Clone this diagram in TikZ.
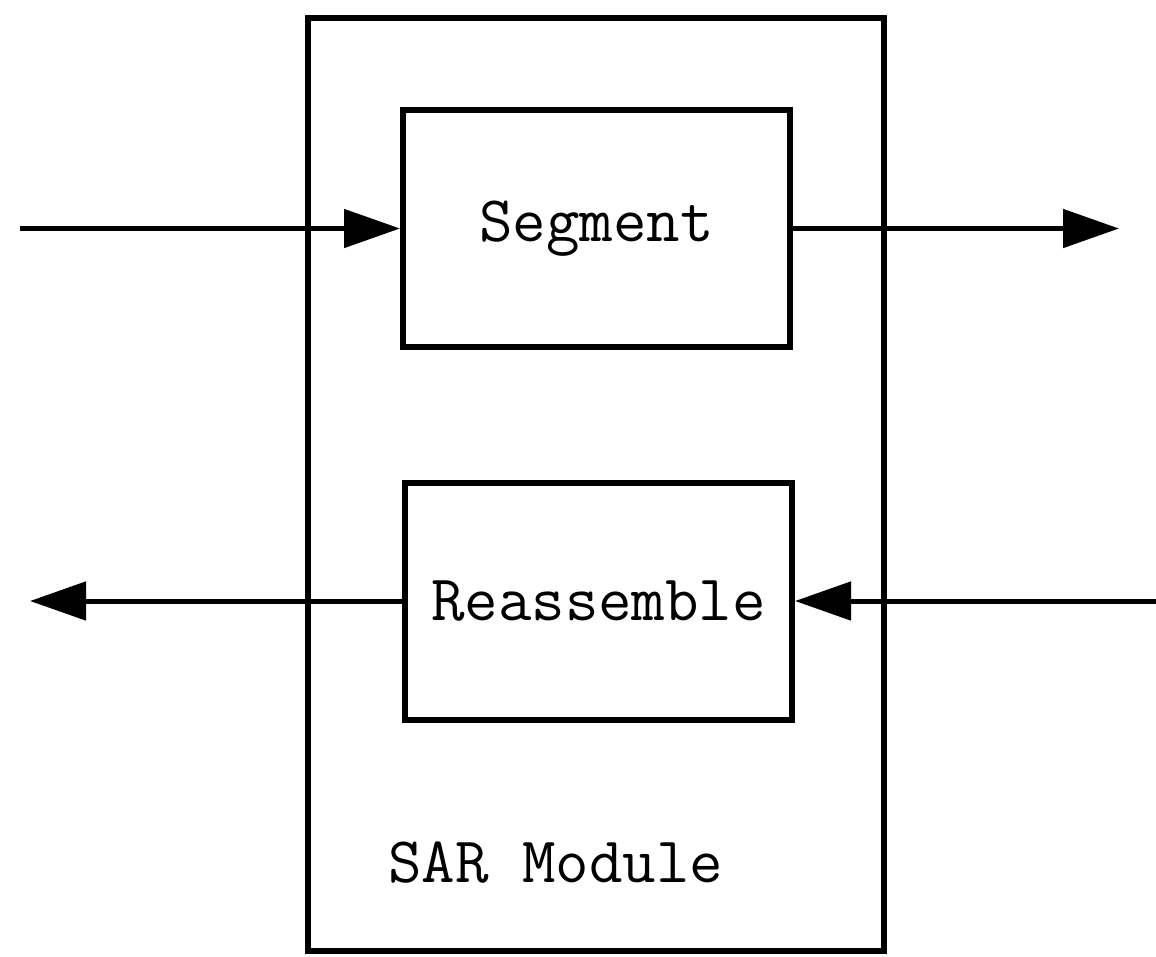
\documentclass[tikz,border=0pt]{standalone}
\usetikzlibrary{arrows.meta}
\begin{document}
\begin{tikzpicture}[x=1pt,y=-1pt,
  frame/.style={draw=black,line width=6pt},
  block/.style={frame,rectangle,inner sep=0pt,minimum width=387pt,minimum height=237pt,
    font=\fontsize{65}{70}\selectfont\ttfamily},
  flow/.style={line width=5pt,-{Triangle[length=56pt,width=38pt]}}]
\useasboundingbox (0,0) rectangle (1156,956);
% outer module frame
\draw[frame] (308,18) rectangle (884,951);
% inner blocks
\node[block] (seg) at (596.5,228.5) {Segment};
\node[block] (rea) at (598.5,601) {Reassemble};
\node[anchor=base west,inner sep=0pt,font=\fontsize{65}{70}\selectfont\ttfamily] (sar) at (388,882) {SAR Module};
% signal ends
\coordinate (in1) at (20,228.5);
\coordinate (out1) at (1119,228.5);
\coordinate (in2) at (1156,601);
\coordinate (out2) at (30,601);
% data paths
\draw[flow] (in1) -- (seg.west);
\draw[flow] (seg.east) -- (out1);
\draw[flow] (in2) -- (rea.east);
\draw[flow] (rea.west) -- (out2);
\end{tikzpicture}
\end{document}
